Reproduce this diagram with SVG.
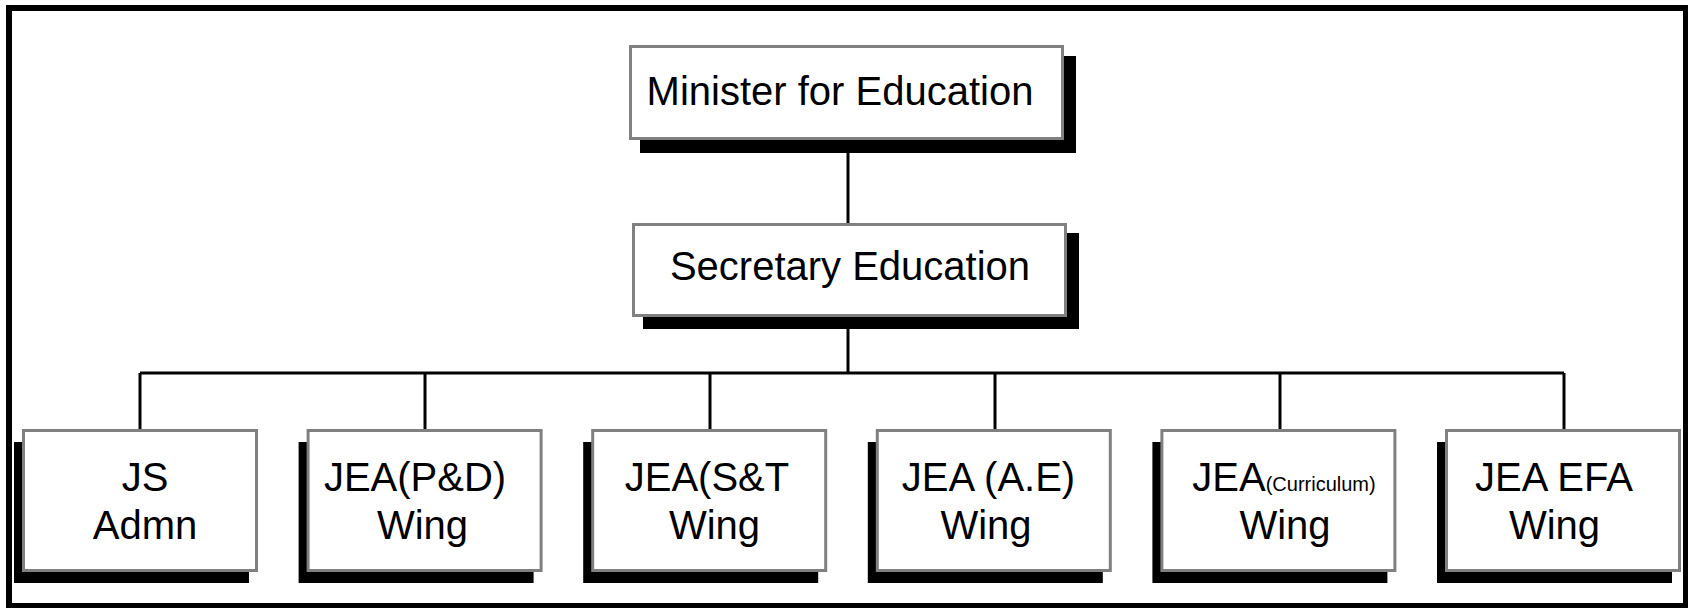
<svg xmlns="http://www.w3.org/2000/svg" width="1688" height="608" viewBox="0 0 1688 608">
<style>
.frame{fill:none;stroke:#000;stroke-width:6}
.box{fill:#fff;stroke:#808080;stroke-width:3}
.shadow{fill:#000}
.conn{stroke:#000;stroke-width:3;fill:none}
text{font-family:"Liberation Sans",Arial,sans-serif;font-size:40px;fill:#000;text-anchor:middle}
.small{font-size:20px}
</style>
<rect x="0" y="0" width="1688" height="608" fill="#fff"/>
<rect class="frame" x="9" y="8" width="1677" height="598"/>
<g id="connectors">
<line class="conn" x1="848" y1="140" x2="848" y2="224"/>
<line class="conn" x1="848" y1="317" x2="848" y2="373"/>
<line class="conn" x1="140" y1="373" x2="1564" y2="373"/>
<line class="conn" x1="140" y1="373" x2="140" y2="430"/>
<line class="conn" x1="425" y1="373" x2="425" y2="430"/>
<line class="conn" x1="710" y1="373" x2="710" y2="430"/>
<line class="conn" x1="995" y1="373" x2="995" y2="430"/>
<line class="conn" x1="1280" y1="373" x2="1280" y2="430"/>
<line class="conn" x1="1564" y1="373" x2="1564" y2="430"/>
</g>
<g id="minister">
<rect class="shadow" x="640" y="56" width="436" height="97"/>
<rect class="box" x="630.5" y="46.5" width="432" height="92"/>
<text x="840" y="105">Minister for Education</text>
</g>
<g id="secretary">
<rect class="shadow" x="643" y="233" width="436" height="96"/>
<rect class="box" x="633.5" y="224.5" width="432" height="91"/>
<text x="850" y="280">Secretary Education</text>
</g>
<g id="js-admn">
<rect class="shadow" x="14" y="442" width="235" height="141"/>
<rect class="box" x="23.5" y="430.5" width="233" height="140"/>
<text x="145" y="491">JS</text>
<text x="145" y="539">Admn</text>
</g>
<g id="jea-pd">
<rect class="shadow" x="298.6" y="442" width="235" height="141"/>
<rect class="box" x="308.1" y="430.5" width="233" height="140"/>
<text x="415" y="491">JEA(P&amp;D)</text>
<text x="422.5" y="539">Wing</text>
</g>
<g id="jea-st">
<rect class="shadow" x="583.2" y="442" width="235" height="141"/>
<rect class="box" x="592.7" y="430.5" width="233" height="140"/>
<text x="707" y="491">JEA(S&amp;T</text>
<text x="714.5" y="539">Wing</text>
</g>
<g id="jea-ae">
<rect class="shadow" x="867.8" y="442" width="235" height="141"/>
<rect class="box" x="877.3" y="430.5" width="233" height="140"/>
<text x="988.5" y="491">JEA (A.E)</text>
<text x="986" y="539">Wing</text>
</g>
<g id="jea-curriculum">
<rect class="shadow" x="1152.4" y="442" width="235" height="141"/>
<rect class="box" x="1161.9" y="430.5" width="233" height="140"/>
<text x="1284" y="491">JEA<tspan class="small">(Curriculum)</tspan></text>
<text x="1285" y="539">Wing</text>
</g>
<g id="jea-efa">
<rect class="shadow" x="1437" y="442" width="235" height="141"/>
<rect class="box" x="1446.5" y="430.5" width="233" height="140"/>
<text x="1554" y="491">JEA EFA</text>
<text x="1554.5" y="539">Wing</text>
</g>
</svg>
